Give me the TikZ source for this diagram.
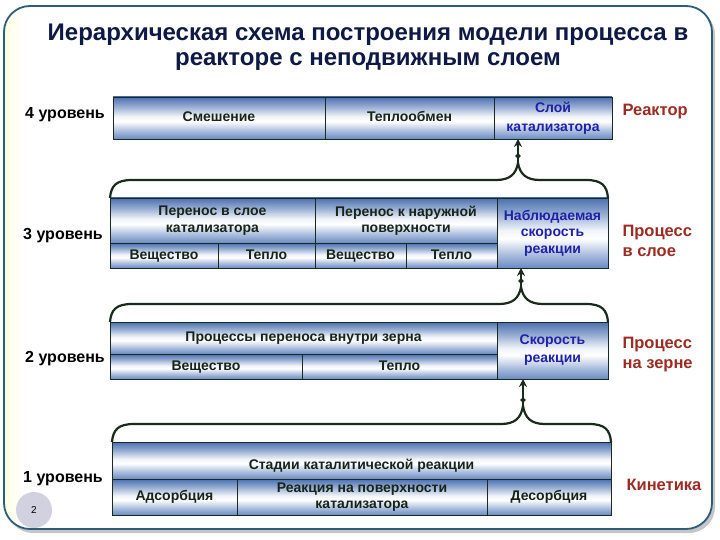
\documentclass[tikz,border=0pt]{standalone}
\usepackage{fontspec}
\setmainfont{Liberation Sans}
\usetikzlibrary{arrows.meta,shapes.geometric}
\definecolor{frameC}{HTML}{2C5D7A}
\definecolor{titleC}{HTML}{0E1A45}
\definecolor{redC}{HTML}{9C2B22}
\definecolor{blueC}{HTML}{1E22A8}
\definecolor{cellT}{HTML}{4A70B0}
\definecolor{cellB}{HTML}{6A8BC3}
\definecolor{lineC}{HTML}{1A2A22}
\definecolor{braceC}{HTML}{1B2B1B}
\definecolor{txtC}{HTML}{182418}
\pgfdeclareverticalshading{cellsh}{100bp}{color(0bp)=(cellB); color(25bp)=(cellB); color(35bp)=(cellB!55!white); color(46bp)=(white); color(52bp)=(white!92!cellT); color(63bp)=(cellT!55!white); color(75bp)=(cellT); color(100bp)=(cellT)}
\tikzset{
  cell/.style={draw=lineC, line width=0.8pt, shading=cellsh,
    anchor=north west, inner sep=0pt, outer sep=0pt, align=center,
    font=\bfseries\fontsize{14}{16.5}\selectfont, text=txtC},
  one/.style={text height=10pt, text depth=3pt},
  bluetxt/.style={text=blueC},
  lvl/.style={font=\bfseries\fontsize{16}{18}\selectfont, text=black},
  rlab/.style={font=\bfseries\fontsize{16.5}{20}\selectfont, text=redC, align=left, anchor=west},
  brace/.style={draw=braceC, line width=2.2pt},
  uparrow/.style={draw=braceC, line width=2.6pt, -{Stealth[length=8pt,width=8pt]}},
  dmd/.style={diamond, fill=braceC, inner sep=0pt, minimum size=6pt}
}
\begin{document}
\begin{tikzpicture}[x=1pt,y=-1pt]
\useasboundingbox (0,0) rectangle (720,540);
% frame
\fill[gray!45, rounded corners=26pt] (7,9) rectangle (715,533);
\fill[white, rounded corners=26pt] (4,6) rectangle (712,529);
\begin{scope}
\clip[rounded corners=26pt] (4,6) rectangle (712,529);
\shade[left color=yellow!12!white, right color=white] (4,6) rectangle (22,529);
\end{scope}
\draw[frameC, line width=1.8pt, rounded corners=26pt] (4,6) rectangle (712,529);

% title
\node[font=\bfseries\fontsize{24}{24.5}\selectfont, text=titleC, align=center] (title) at (368,47)
  {Иерархическая схема построения модели процесса в\\реакторе с неподвижным слоем};

% level 4
\node[cell, one, minimum width=212, minimum height=42] (l4a) at (113,97) {Смешение};
\node[cell, one, minimum width=169, minimum height=42] (l4b) at (325,97) {Теплообмен};
\node[cell, minimum width=118, minimum height=42, bluetxt, font=\bfseries\fontsize{14}{19}\selectfont] (l4c) at (494,97) {Слой\\катализатора};

% level 3
\node[cell, minimum width=205, minimum height=45] (l3a) at (110,198) {Перенос в слое\\катализатора};
\node[cell, minimum width=182, minimum height=45] (l3b) at (315,198) {Перенос к наружной\\поверхности};
\node[cell, one, minimum width=108, minimum height=25] (l3c) at (110,243) {Вещество};
\node[cell, one, minimum width=97, minimum height=25] (l3d) at (218,243) {Тепло};
\node[cell, one, minimum width=91, minimum height=25] (l3e) at (315,243) {Вещество};
\node[cell, one, minimum width=91, minimum height=25] (l3f) at (406,243) {Тепло};
\node[cell, minimum width=111, minimum height=70, bluetxt, font=\bfseries\fontsize{14}{16.5}\selectfont] (l3g) at (497,198) {Наблюдаемая\\скорость\\реакции};

% level 2
\node[cell, one, minimum width=387, minimum height=32] (l2a) at (110,322) {Процессы переноса внутри зерна};
\node[cell, one, minimum width=192, minimum height=25] (l2b) at (110,354) {Вещество};
\node[cell, one, minimum width=195, minimum height=25] (l2c) at (302,354) {Тепло};
\node[cell, minimum width=111, minimum height=57, bluetxt, font=\bfseries\fontsize{14}{18}\selectfont] (l2d) at (497,322) {Скорость\\реакции};

% level 1
\node[cell, minimum width=499, minimum height=37, text height=18pt, text depth=0pt] (l1a) at (112,442) {Стадии каталитической реакции};
\node[cell, one, minimum width=125, minimum height=36] (l1b) at (112,479) {Адсорбция};
\node[cell, minimum width=250, minimum height=36] (l1c) at (237,479) {Реакция на поверхности\\катализатора};
\node[cell, one, minimum width=124, minimum height=36] (l1d) at (487,479) {Десорбция};

% braces
\coordinate (p3) at (518,163);
\draw[brace] (l3a.north west) .. controls (111,186) and (116,180) .. (132,180) -- (496,180)
  .. controls (510,180) and (516,174) .. (p3) .. controls (520,174) and (526,180) .. (540,180)
  -- (586,180) .. controls (602,180) and (607,186) .. (l3g.north east);
\coordinate (p2) at (521,287);
\draw[brace] (l2a.north west) .. controls (111,310) and (116,304) .. (132,304) -- (499,304)
  .. controls (513,304) and (519,298) .. (p2) .. controls (523,298) and (529,304) .. (543,304)
  -- (586,304) .. controls (602,304) and (607,310) .. (l2d.north east);
\coordinate (p1) at (523,406);
\draw[brace] (l1a.north west) .. controls (113,430) and (118,424) .. (134,424) -- (501,424)
  .. controls (515,424) and (521,418) .. (p1) .. controls (525,418) and (531,424) .. (545,424)
  -- (589,424) .. controls (605,424) and (610,430) .. (l1a.north east);

% arrows
\draw[uparrow] (p3) -- (p3 |- l4c.south);
\node[dmd] (d3) at (518,156) {};
\draw[uparrow] (p2) -- (p2 |- l3g.south);
\node[dmd] (d2) at (521,281) {};
\draw[uparrow] (p1) -- (p1 |- l2d.south);
\node[dmd] (d1) at (523,400) {};

% left labels
\node[lvl] (n4) at (65,115) {4 уровень};
\node[lvl] (n3) at (63,236) {3 уровень};
\node[lvl] (n2) at (65,359) {2 уровень};
\node[lvl] (n1) at (63,479) {1 уровень};

% right labels
\node[rlab] (r4) at (619,112) {Реактор};
\node[rlab] (r3) at (619,241) {Процесс\\в слое};
\node[rlab] (r2) at (619,355) {Процесс\\на зерне};
\node[rlab] (r1) at (623,485) {Кинетика};

% page number
\node[circle, fill=blue!20!gray!30!white, minimum size=36pt, inner sep=0pt, font=\fontsize{10}{12}\selectfont] (pg) at (34,510) {2};
\end{tikzpicture}
\end{document}
